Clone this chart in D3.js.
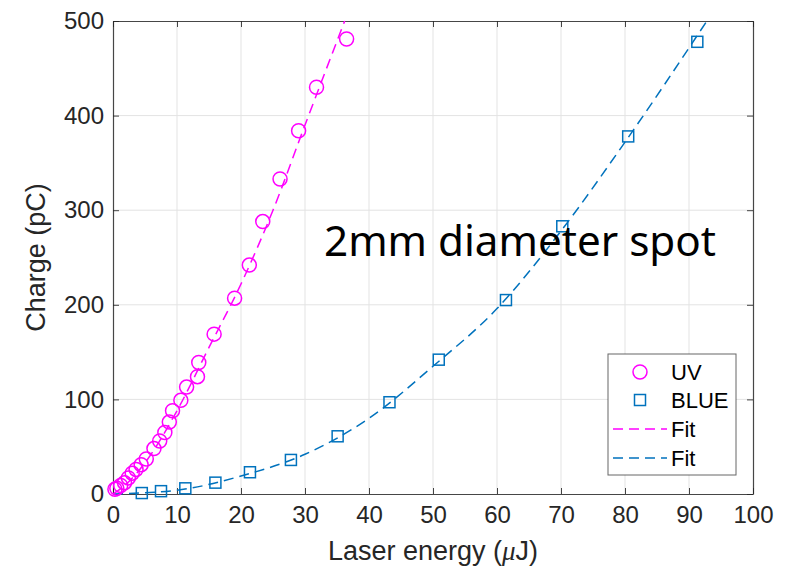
<!DOCTYPE html>
<html>
<head>
<meta charset="utf-8">
<script src="https://cdn.jsdelivr.net/npm/d3@7"></script>
<style>
  body { margin: 0; background: #fff; }
  svg { display: block; }
</style>
</head>
<body>
<div id="chart"></div>
<script>
'use strict';

var uvEnergy = [36.5, 31.8, 29.0, 26.1, 23.4, 21.3, 19.0, 15.8, 13.4, 13.2, 11.5, 10.6, 9.3, 8.8, 8.1, 7.3, 6.4, 5.2, 4.4, 3.6, 3.0, 2.4, 1.8, 1.2, 0.6, 0.3];
var uvCharge = [481, 430, 384, 333, 288, 242, 207, 169, 139, 124, 113, 99, 88, 76, 65, 56, 48, 37, 31, 26, 22, 17, 12, 9, 6, 5];

var blueEnergy = [4.5, 7.5, 11.3, 16.0, 21.4, 27.8, 35.1, 43.2, 50.9, 61.4, 70.2, 80.5, 91.3];
var blueCharge = [1, 3, 6, 12, 23, 36, 61, 97, 142, 205, 283, 378, 478];

// fit curves, sampled from the dashed lines
var uvFitEnergy = [0, 2, 5, 10, 15, 20, 25, 30, 36.2];
var uvFitCharge = [0, 10, 33, 88, 155, 222, 300, 390, 500];
var blueFitEnergy = [0, 10, 20, 30, 40, 50, 60, 70, 80, 92.8];
var blueFitCharge = [0, 4, 19, 42, 80, 135, 196, 278, 372, 500];

var xTicks = [0, 10, 20, 30, 40, 50, 60, 70, 80, 90, 100];
var yTicks = [0, 100, 200, 300, 400, 500];

var legendLabels = ['UV', 'BLUE', 'Fit', 'Fit'];

var W = 791, H = 570;
var margin = { left: 113, right: 38, top: 21, bottom: 76 };
var uvColor = '#ff00ff', blueColor = '#0072bd', axisColor = '#262626', gridColor = '#e3e3e3';
var font = '"Liberation Sans", Arial, Helvetica, sans-serif';

var svg = d3.select('#chart').append('svg')
  .attr('width', W)
  .attr('height', H);

var x = d3.scaleLinear().domain([0, 100]).range([margin.left, W - margin.right]);
var y = d3.scaleLinear().domain([0, 500]).range([H - margin.bottom, margin.top]);

/* grid */
svg.append('g').selectAll('line.gx').data(xTicks.slice(1, -1)).enter().append('line')
  .attr('x1', function(d){ return x(d); }).attr('x2', function(d){ return x(d); })
  .attr('y1', y(0)).attr('y2', y(500))
  .style('stroke', gridColor).style('stroke-width', 1);
svg.append('g').selectAll('line.gy').data(yTicks.slice(1, -1)).enter().append('line')
  .attr('y1', function(d){ return y(d); }).attr('y2', function(d){ return y(d); })
  .attr('x1', x(0)).attr('x2', x(100))
  .style('stroke', gridColor).style('stroke-width', 1);

/* axes (MATLAB style, ticks inside, box on) */
var tickLen = 6;
var xAxis = svg.append('g')
  .attr('transform', 'translate(0,' + y(0) + ')')
  .call(d3.axisBottom(x).tickValues(xTicks).tickSizeInner(-tickLen).tickSizeOuter(0).tickPadding(12));
var yAxis = svg.append('g')
  .attr('transform', 'translate(' + x(0) + ',0)')
  .call(d3.axisLeft(y).tickValues(yTicks).tickSizeInner(-tickLen).tickSizeOuter(0).tickPadding(9));
var xTop = svg.append('g')
  .attr('transform', 'translate(0,' + y(500) + ')')
  .call(d3.axisTop(x).tickValues(xTicks).tickSizeInner(-tickLen).tickSizeOuter(0).tickFormat(''));
var yRight = svg.append('g')
  .attr('transform', 'translate(' + x(100) + ',0)')
  .call(d3.axisRight(y).tickValues(yTicks).tickSizeInner(-tickLen).tickSizeOuter(0).tickFormat(''));

[xAxis, yAxis, xTop, yRight].forEach(function(g){
  g.select('.domain').style('stroke', axisColor).style('stroke-opacity', 0.85).style('stroke-width', 1.2);
  g.selectAll('.tick line').style('stroke', axisColor).style('stroke-opacity', 0.85);
  g.selectAll('.tick text').style('fill', axisColor).style('font-family', font).style('font-size', '24px');
});

/* axis labels */
var xLabel = svg.append('text')
  .attr('x', x(50))
  .attr('y', 560)
  .attr('text-anchor', 'middle')
  .style('font-family', font).style('font-size', '27px').style('fill', axisColor);
xLabel.append('tspan').text('Laser energy (');
xLabel.append('tspan').style('font-style', 'italic').style('font-family', '"Liberation Serif", "Times New Roman", serif').text('\u03bc');
xLabel.append('tspan').text('J)');

svg.append('text')
  .attr('transform', 'translate(45,' + y(250) + ') rotate(-90)')
  .attr('text-anchor', 'middle')
  .style('font-family', font).style('font-size', '27px').style('fill', axisColor)
  .text('Charge (pC)');

/* fit lines */
var line = d3.line()
  .x(function(d){ return x(d[0]); })
  .y(function(d){ return y(d[1]); })
  .curve(d3.curveMonotoneX);

svg.append('path')
  .datum(d3.zip(blueFitEnergy, blueFitCharge))
  .attr('d', line)
  .style('fill', 'none').style('stroke', blueColor).style('stroke-width', 1.5).style('stroke-dasharray', '10,6');
svg.append('path')
  .datum(d3.zip(uvFitEnergy, uvFitCharge))
  .attr('d', line)
  .style('fill', 'none').style('stroke', uvColor).style('stroke-width', 1.5).style('stroke-dasharray', '10,6');

/* markers */
var sq = 11;
svg.append('g').selectAll('rect').data(d3.zip(blueEnergy, blueCharge)).enter().append('rect')
  .attr('x', function(d){ return x(d[0]) - sq/2; })
  .attr('y', function(d){ return y(d[1]) - sq/2; })
  .attr('width', sq).attr('height', sq)
  .style('fill', 'none').style('stroke', blueColor).style('stroke-width', 1.5);

svg.append('g').selectAll('circle').data(d3.zip(uvEnergy, uvCharge)).enter().append('circle')
  .attr('cx', function(d){ return x(d[0]); })
  .attr('cy', function(d){ return y(d[1]); })
  .attr('r', 7)
  .style('fill', 'none').style('stroke', uvColor).style('stroke-width', 1.5);

/* annotation */
var note = svg.append('text')
  .attr('x', 324)
  .attr('y', 256)
  .style('font-family', '"Noto Sans", "Open Sans", sans-serif')
  .style('font-size', '40px')
  .style('fill', '#000')
  .text('2mm diameter spot');
var noteW = note.node().getComputedTextLength();
note.style('font-size', (40 * 392 / noteW).toFixed(1) + 'px');

/* legend */
var lg = svg.append('g').attr('transform', 'translate(608,354)');
lg.append('rect')
  .attr('width', 128).attr('height', 121)
  .style('fill', '#fff').style('stroke', axisColor).style('stroke-opacity', 0.7).style('stroke-width', 1);

var rowY = [18, 46, 75, 104];
lg.append('circle').attr('cx', 32).attr('cy', rowY[0]).attr('r', 7)
  .style('fill', 'none').style('stroke', uvColor).style('stroke-width', 1.5);
lg.append('rect').attr('x', 32 - sq/2).attr('y', rowY[1] - sq/2).attr('width', sq).attr('height', sq)
  .style('fill', 'none').style('stroke', blueColor).style('stroke-width', 1.5);
lg.append('line').attr('x1', 5).attr('x2', 59).attr('y1', rowY[2]).attr('y2', rowY[2])
  .style('stroke', uvColor).style('stroke-width', 1.5).style('stroke-dasharray', '10,6');
lg.append('line').attr('x1', 5).attr('x2', 59).attr('y1', rowY[3]).attr('y2', rowY[3])
  .style('stroke', blueColor).style('stroke-width', 1.5).style('stroke-dasharray', '10,6');

lg.selectAll('text.lbl').data(legendLabels).enter().append('text')
  .attr('x', 63)
  .attr('y', function(d, i){ return rowY[i]; })
  .attr('dy', '0.35em')
  .style('font-family', font).style('font-size', '22px').style('fill', '#000')
  .text(function(d){ return d; });
</script>
</body>
</html>
